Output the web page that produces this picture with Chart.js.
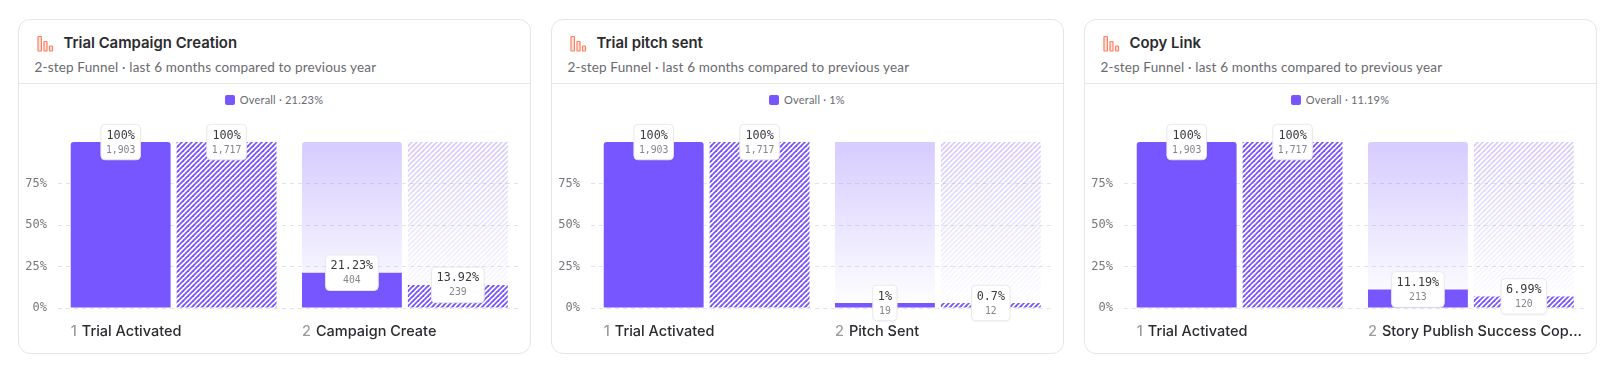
<!DOCTYPE html>
<html><head><meta charset="utf-8">
<style>
html,body{margin:0;padding:0;background:#fff;width:1613px;height:374px;overflow:hidden;font-family:Inter,sans-serif}
.card{position:absolute;top:19px;width:513px;height:335px;border:1px solid #e6e6e8;border-radius:12px;box-sizing:border-box;background:#fff}
.icon{position:absolute;left:18px;top:15px}
.title{position:absolute;left:45px;top:13px;font:600 14.9px/20px Inter,sans-serif;color:#2b2b30;white-space:nowrap}
.sub{position:absolute;left:16px;top:37px;font:400 13.5px/20px Lato,sans-serif;color:#6a6a70;white-space:nowrap;letter-spacing:.17px}
.div{position:absolute;left:0;right:0;top:63px;height:1px;background:#e6e6e8}
.leg{position:absolute;left:0;right:0;top:72px;text-align:center;font:400 11px/16px Lato,sans-serif;color:#6a6a70;letter-spacing:.2px}
.leg i{display:inline-block;width:10px;height:10px;border-radius:2px;background:#7856ff;margin-right:5px;vertical-align:-1px}
canvas{position:absolute;left:0;top:70px}
</style></head>
<body>
<script src="https://cdn.jsdelivr.net/npm/chart.js@4"></script>
<script>
const cardTitles = ["Trial Campaign Creation", "Trial pitch sent", "Copy Link"];
const cardSubtitle = "2-step Funnel \u00b7 last 6 months compared to previous year";
const cardLegends = ["Overall \u00b7 21.23%", "Overall \u00b7 1%", "Overall \u00b7 11.19%"];
const cardLefts = [17.5, 550.5, 1083.5];
const yTicks = [0, 25, 50, 75];

const steps1 = ["Trial Activated", "Campaign Create"];
const current1 = [100, 21.23];
const previous1 = [100, 13.92];
const dropCurrent1 = [0, 78.77];
const dropPrevious1 = [0, 86.08];
const countCurrent1 = ["1,903", "404"];
const countPrevious1 = ["1,717", "239"];

const steps2 = ["Trial Activated", "Pitch Sent"];
const current2 = [100, 1];
const previous2 = [100, 0.7];
const dropCurrent2 = [0, 99];
const dropPrevious2 = [0, 99.3];
const countCurrent2 = ["1,903", "19"];
const countPrevious2 = ["1,717", "12"];

const steps3 = ["Trial Activated", "Story Publish Success Cop..."];
const current3 = [100, 11.19];
const previous3 = [100, 6.99];
const dropCurrent3 = [0, 88.81];
const dropPrevious3 = [0, 93.01];
const countCurrent3 = ["1,903", "213"];
const countPrevious3 = ["1,717", "120"];

const PURPLE = "#7856ff";
const W = 511, H = 264;
const HATCH_PERIOD = 5;

function hatch(ctx, top, bottom, c0, c1) {
  const t = document.createElement("canvas");
  t.width = HATCH_PERIOD; t.height = H;
  const g = t.getContext("2d");
  const lg = g.createLinearGradient(0, top, 0, bottom);
  lg.addColorStop(0, c0); lg.addColorStop(1, c1);
  g.strokeStyle = lg; g.lineWidth = 1.8;
  for (let k = -H - 2 * HATCH_PERIOD; k < 3 * HATCH_PERIOD; k += HATCH_PERIOD) {
    g.beginPath(); g.moveTo(k, H); g.lineTo(k + H, 0); g.stroke();
  }
  return ctx.createPattern(t, "repeat");
}
const FADE_TOP = "rgba(120,86,255,0.30)", FADE_END = "rgba(120,86,255,0)";

const overlay = {
  id: "overlay",
  afterDatasetsDraw(chart, args, o) {
    const c = chart.ctx;
    const m0 = chart.getDatasetMeta(0).data, m2 = chart.getDatasetMeta(2).data;
    const pill = (el, val, cnt) => {
      const pct = val + "%";
      c.font = "11.8px 'DejaVu Sans Mono'";
      const w1 = c.measureText(pct).width;
      c.font = "9.8px 'DejaVu Sans Mono'";
      const w2 = c.measureText(cnt).width;
      const w = Math.max(w1, w2) + 10, h = 35.5, x = el.x - w / 2, y = el.y - h / 2;
      c.save();
      c.shadowColor = "rgba(0,0,0,0.06)"; c.shadowBlur = 2; c.shadowOffsetY = 1;
      c.beginPath(); c.roundRect(x, y, w, h, 4);
      c.fillStyle = "#fff"; c.fill();
      c.restore();
      c.strokeStyle = "#e9e9ec"; c.lineWidth = 1;
      c.beginPath(); c.roundRect(x, y, w, h, 4); c.stroke();
      c.textAlign = "center"; c.textBaseline = "middle";
      c.font = "11.8px 'DejaVu Sans Mono'"; c.fillStyle = "#3a3a40";
      c.fillText(pct, el.x, el.y - 6.5);
      c.font = "9.8px 'DejaVu Sans Mono'"; c.fillStyle = "#85858b";
      c.fillText(cnt, el.x, el.y + 8);
    };
    o.current.forEach((v, i) => pill(m0[i], v, o.countCurrent[i]));
    o.previous.forEach((v, i) => pill(m2[i], v, o.countPrevious[i]));
    o.steps.forEach((s, i) => {
      const left = m0[i].x - m0[i].width / 2;
      const num = String(i + 1);
      c.textAlign = "left"; c.textBaseline = "alphabetic";
      c.font = "500 14.5px Inter, sans-serif";
      c.fillStyle = "#9a9a9f"; c.fillText(num, left, 246);
      c.fillStyle = "#2b2b30"; c.fillText(s, left + c.measureText(num).width + 5, 246);
    });
  }
};

function build(i, steps, cur, prev, dc, dp, cc, cp) {
  const card = document.createElement("div");
  card.className = "card";
  card.style.left = cardLefts[i] + "px";
  card.innerHTML =
    '<svg class="icon" width="18" height="18" viewBox="0 0 18 18" fill="#ffe7e0" stroke="#ff7f61" stroke-width="1.2">' +
    '<rect x="1" y="1.5" width="3.4" height="14.5" rx=".6"/><rect x="7" y="6.5" width="3" height="9.5" rx=".6"/><rect x="12.5" y="11" width="3" height="5" rx=".6"/></svg>' +
    '<div class="title">' + cardTitles[i] + '</div><div class="sub">' + cardSubtitle + '</div><div class="div"></div>' +
    '<div class="leg"><i></i>' + cardLegends[i] + '</div>';
  const cv = document.createElement("canvas");
  cv.width = W; cv.height = H;
  cv.style.width = W + "px"; cv.style.height = H + "px";
  card.appendChild(cv);
  document.body.appendChild(card);
  const ctx = cv.getContext("2d");
  const topRound = c => c.raw >= 100 ? { topLeft: 3, topRight: 3, bottomLeft: 0, bottomRight: 0 } : 0;
  const common = { categoryPercentage: 0.916, barPercentage: 0.943, borderWidth: 0 };
  new Chart(ctx, {
    type: "bar",
    data: {
      labels: steps,
      datasets: [
        { ...common, stack: "cur", data: cur, backgroundColor: PURPLE, borderRadius: topRound, minBarLength: 5 },
        { ...common, stack: "cur", data: dc, borderRadius: { topLeft: 3, topRight: 3, bottomLeft: 0, bottomRight: 0 },
          backgroundColor: c => {
            const a = c.chart.chartArea; if (!a) return "transparent";
            const g = c.chart.ctx.createLinearGradient(0, a.top, 0, a.bottom);
            g.addColorStop(0, FADE_TOP); g.addColorStop(1, FADE_END); return g;
          } },
        { ...common, stack: "prev", data: prev, borderRadius: 0, minBarLength: 5,
          backgroundColor: c => {
            const a = c.chart.chartArea; if (!a) return "transparent";
            return hatch(c.chart.ctx, 0, H, PURPLE, PURPLE);
          } },
        { ...common, stack: "prev", data: dp, borderRadius: 0,
          backgroundColor: c => {
            const a = c.chart.chartArea; if (!a) return "transparent";
            return hatch(c.chart.ctx, a.top, a.bottom, FADE_TOP, FADE_END);
          } }
      ]
    },
    options: {
      responsive: false, animation: false,
      layout: { padding: { top: 52, bottom: 46, left: 0, right: 9.5 } },
      plugins: { legend: { display: false }, tooltip: { enabled: false },
        overlay: { steps, current: cur, previous: prev, countCurrent: cc, countPrevious: cp } },
      scales: {
        x: { stacked: true, afterFit: s => { s.height = 0; }, grid: { display: false }, border: { display: false }, ticks: { display: false } },
        y: { stacked: true, min: 0, max: 100,
          afterFit: s => { s.width = 39; },
          afterBuildTicks: s => { s.ticks = yTicks.map(v => ({ value: v })); },
          border: { display: false, dash: [4, 4] },
          grid: { color: "#e4e4ea", drawTicks: false, lineWidth: 1 },
          ticks: { padding: 11, color: "#77777d", font: { family: "'DejaVu Sans Mono'", size: 12 }, callback: v => v + "%" } }
      }
    },
    plugins: [overlay]
  });
}
build(0, steps1, current1, previous1, dropCurrent1, dropPrevious1, countCurrent1, countPrevious1);
build(1, steps2, current2, previous2, dropCurrent2, dropPrevious2, countCurrent2, countPrevious2);
build(2, steps3, current3, previous3, dropCurrent3, dropPrevious3, countCurrent3, countPrevious3);
</script>
</body></html>
